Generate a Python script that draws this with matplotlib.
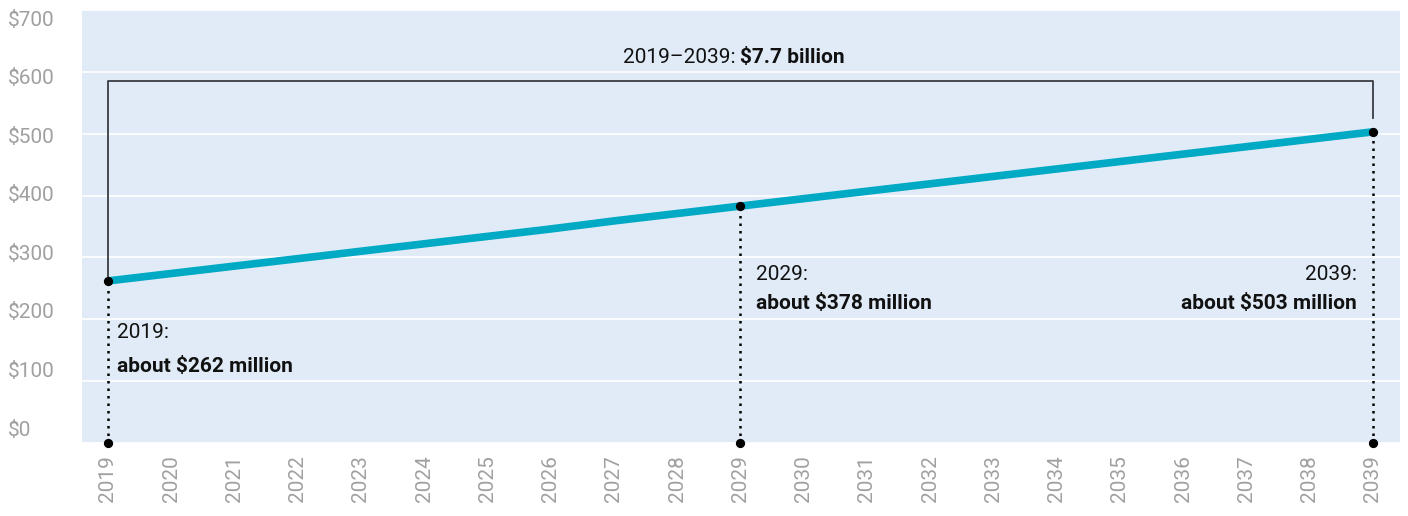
import matplotlib
matplotlib.use("Agg")
import matplotlib.pyplot as plt
from matplotlib.transforms import blended_transform_factory, ScaledTranslation

# data (millions of dollars per year)
years = list(range(2019, 2040))
values = [262, 274, 286, 298, 310, 322, 334, 346, 359, 371, 383,
          395, 407, 419, 431, 443, 455, 467, 479, 491, 503]
y_ticks = [0, 100, 200, 300, 400, 500, 600, 700]
y_labels = ["$0", "$100", "$200", "$300", "$400", "$500", "$600", "$700"]
marked_years = [2019, 2029, 2039]
label_vals = [262, 378, 503]
total_label = "$7.7 billion"

plt.rcParams['font.family'] = ['Roboto', 'DejaVu Sans']

fig = plt.figure(figsize=(14.08, 5.16), dpi=100)
ax = fig.add_axes([82/1408, 1 - 443/516, (1400-82)/1408, (443-10)/516])
ax.set_facecolor("#e0ebf7")
for s in ax.spines.values():
    s.set_visible(False)

ax.set_xlim(2018.59, 2039.43)
ax.set_ylim(0, 700)
ax.set_yticks(y_ticks)
ax.set_yticklabels([])
ax.set_xticks(years)
ax.set_xticklabels([str(y) for y in years], rotation=90, color="#a0a0a0", fontsize=15)
ax.tick_params(length=0)
ax.tick_params(axis="x", pad=9)
ax.grid(axis="y", color="white", lw=1.2)
ax.set_axisbelow(True)

# y labels sit a bit off the gridlines, left aligned at the figure edge
trans = blended_transform_factory(fig.transFigure, ax.transData)
for i, (v, lab) in enumerate(zip(y_ticks, y_labels)):
    dy = (-13 + i * 3.3) / 100
    t = trans + ScaledTranslation(0, -dy, fig.dpi_scale_trans)
    ax.text(8/1408, v, lab, transform=t, ha="left", va="center",
            fontsize=15, color="#a0a0a0", clip_on=False)

# main line
ax.plot(years, values, color="#00a9c4", lw=5.5, solid_capstyle="butt", zorder=3)

# dotted drop lines + dots
for yr in marked_years:
    v = values[years.index(yr)]
    ax.plot([yr, yr], [0, v], color="black", ls=(0, (1, 2)), lw=1.8, zorder=4)
    ax.scatter([yr, yr], [0, v], s=32, color="black", zorder=5, clip_on=False)

# bracket over the whole period
ax.plot([2019, 2019, 2039, 2039], [values[0], 585, 585, 525], color="#3a3d42", lw=1.3, zorder=2)
ax.text(2029, 624, "2019–2039: ", ha="right", va="center", fontsize=15, color="#111")
ax.text(2029, 624, total_label, ha="left", va="center", fontsize=15, fontweight="bold", color="#111")

# value labels
ax.text(2019.15, 178, "2019:", ha="left", va="center", fontsize=15, color="#111")
ax.text(2019.15, 124, "about $%d million" % label_vals[0], ha="left", va="center", fontsize=15, fontweight="bold", color="#111")
ax.text(2029.25, 273, "2029:", ha="left", va="center", fontsize=15, color="#111")
ax.text(2029.25, 226, "about $%d million" % label_vals[1], ha="left", va="center", fontsize=15, fontweight="bold", color="#111")
ax.text(2038.75, 273, "2039:", ha="right", va="center", fontsize=15, color="#111")
ax.text(2038.75, 226, "about $%d million" % label_vals[2], ha="right", va="center", fontsize=15, fontweight="bold", color="#111")

fig.savefig("out.png", dpi=100)
